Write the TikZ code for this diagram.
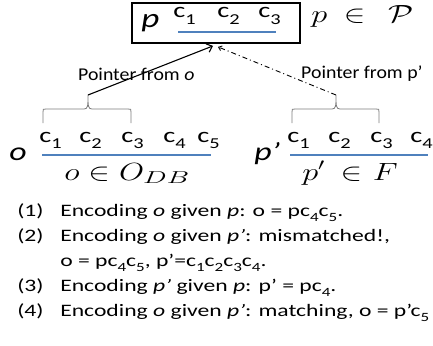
\documentclass[tikz,border=0pt]{standalone}
\usepackage{fontspec}
\setmainfont{Carlito}
\usepackage{graphicx}
\usetikzlibrary{arrows.meta,calc}
\definecolor{ulblue}{RGB}{79,129,189}
\definecolor{bracegray}{RGB}{125,125,125}
\newcommand\sub[1]{\raisebox{-0.33em}{\scalebox{0.72}{#1}}}
\newcommand\fs[1]{\fontsize{#1}{#1}\selectfont}
\begin{document}
\begin{tikzpicture}[x=1pt,y=-1pt,
  tx/.style={inner sep=0pt, anchor=base west},
  bigtxt/.style={tx, font={\fs{27}\itshape}, xscale=1.3},
  ctxt/.style={tx, font={\fs{21}}, xscale=1.35},
  mtxt/.style={tx, font={\fs{25}}, xscale=1.3},
  lbl/.style={tx, font={\fs{18}}, xscale=1.1},
  itemtxt/.style={tx, font={\fs{17.5}}, xscale=1.35},
  ul/.style={ulblue, line width=1.8pt},
  bracepath/.style={bracegray, line width=0.8pt},
  ptr/.style={line width=1.1pt, -{Straight Barb[length=5pt,width=9pt]}},
  ptrdash/.style={line width=0.9pt, dash pattern=on 5pt off 3pt on 1pt off 3pt, -{Straight Barb[length=3pt,width=5pt]}}
]
\useasboundingbox (0,0) rectangle (433,345);

% top pattern box
\node[draw, line width=1.8pt, minimum width=168pt, minimum height=40pt, inner sep=0pt] (pbox) at (216,23) {};
\node[bigtxt] (ptop) at (141,28) {p};
\node[ctxt] (tc1) at (173,18) {c\sub{1}};
\node[ctxt] (tc2) at (217,18) {c\sub{2}};
\node[ctxt] (tc3) at (258,18) {c\sub{3}};
\draw[ul] (178,32) -- (276,32);
\node[mtxt, font={\fs{24}}] (pinP) at (311,23) {$p$\hspace{12.8pt}$\in$\hspace{17.5pt}$\mathcal{P}$};

% left object
\node[bigtxt, font={\fs{26}\itshape}] (obig) at (9,160) {o};
\node[ctxt] (oc1) at (39,142) {c\sub{1}};
\node[ctxt] (oc2) at (79,142) {c\sub{2}};
\node[ctxt] (oc3) at (121,142) {c\sub{3}};
\node[ctxt] (oc4) at (163,142) {c\sub{4}};
\node[ctxt] (oc5) at (197,142) {c\sub{5}};
\draw[ul] (42,155) -- (211,155);
\node[mtxt] (oinO) at (64,180) {$o\in O_{\scalebox{1.25}[1]{$\scriptstyle DB$}}$};

% right pattern
\node[bigtxt, font={\fs{26}\itshape}] (pprime) at (254,160) {p’};
\node[ctxt] (pc1) at (287,142) {c\sub{1}};
\node[ctxt] (pc2) at (328,142) {c\sub{2}};
\node[ctxt] (pc3) at (370,142) {c\sub{3}};
\node[ctxt] (pc4) at (410,142) {c\sub{4}};
\draw[ul] (290,155) -- (428,155);
\node[mtxt] (pinF) at (302,180) {$p'$\hspace{12pt}$\in$\hspace{8.3pt}$F$};

% braces
\coordinate (lpk) at (88,95);
\coordinate (rpk) at (336,95);
\draw[bracepath] (43,123) -- (43,112) .. controls (43,109) .. (46,109) -- (84,109)
  .. controls (88,109) and (88,106) .. (lpk)
  .. controls (88,106) and (88,109) .. (92,109) -- (128,109)
  .. controls (131,109) .. (131,112) -- (131,123);
\draw[bracepath] (292,123) -- (292,112) .. controls (292,109) .. (295,109) -- (332,109)
  .. controls (336,109) and (336,106) .. (rpk)
  .. controls (336,106) and (336,109) .. (340,109) -- (376,109)
  .. controls (379,109) .. (379,112) -- (379,123);

% pointers
\draw[ptr] (lpk) -- ($(pbox.south)+(-3,2)$);
\draw[ptrdash] (rpk) -- ($(pbox.south)+(2,3)$);
\node[lbl] (lblo) at (78,80) {Pointer from \textit{o}};
\node[lbl] (lblp) at (301,78) {Pointer from p’};

% explanation lines
\node[itemtxt] (n1) at (17,216) {(1)};
\node[itemtxt] (l1) at (60,216) {Encoding \textit{o} given \textit{p}: o = pc\sub{4}c\sub{5}.};
\node[itemtxt] (n2) at (17,241) {(2)};
\node[itemtxt] (l2) at (60,241) {Encoding \textit{o} given \textit{p’}: mismatched!,};
\node[itemtxt] (l2b) at (60,266) {o = pc\sub{4}c\sub{5}, p’=c\sub{1}c\sub{2}c\sub{3}c\sub{4}.};
\node[itemtxt] (n3) at (17,291) {(3)};
\node[itemtxt] (l3) at (60,291) {Encoding \textit{p’} given \textit{p}: p’ = pc\sub{4}.};
\node[itemtxt] (n4) at (17,316) {(4)};
\node[itemtxt] (l4) at (60,316) {Encoding \textit{o} given \textit{p’}: matching, o = p’c\sub{5}};
\end{tikzpicture}
\end{document}
